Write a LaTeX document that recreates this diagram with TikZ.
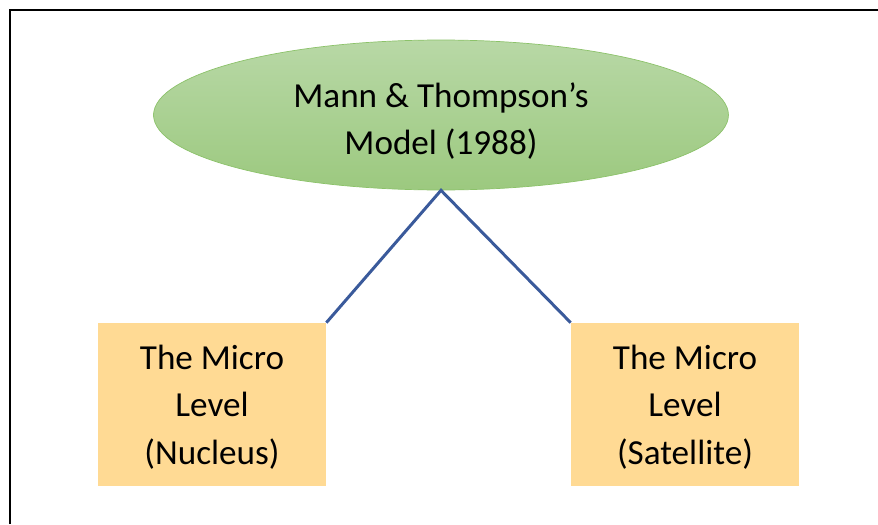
\documentclass[tikz,border=0pt]{standalone}
\usepackage{fontspec}
\setmainfont{Carlito}
\usetikzlibrary{shapes.geometric, positioning}
\definecolor{ovaltop}{HTML}{B8D8A6}
\definecolor{ovalbot}{HTML}{9CC97F}
\definecolor{ovalline}{HTML}{8CC26A}
\definecolor{levelfill}{HTML}{FFDA94}
\definecolor{linkblue}{HTML}{3A5A9B}

\begin{document}
\begin{tikzpicture}[x=0.02cm, y=-0.02cm,
  model/.style={ellipse, draw=ovalline, thin, top color=ovaltop, bottom color=ovalbot,
    minimum width=11.5cm, minimum height=3cm, inner sep=0pt, align=center,
    font=\fontsize{20}{25.5}\selectfont},
  level/.style={rectangle, fill=levelfill, minimum width=4.56cm, minimum height=3.26cm,
    inner sep=0pt, align=center, font=\fontsize{20}{27}\selectfont},
  link/.style={linkblue, line width=1.7pt}]
\useasboundingbox (0,0) rectangle (878,524);
\draw[line width=1.3pt] (10,524) -- (10,10) -- (878,10);

\node[model] (mt) at (441,115) {\raisebox{-4pt}[\height][\depth]{\begin{tabular}{c}Mann \& Thompson’s\\[0.8pt] Model (1988)\end{tabular}}};

\node[level] (nuc) at (212,404.5) {\raisebox{-1.5pt}[\height][\depth]{\begin{tabular}{c}The Micro\\Level\\(Nucleus)\end{tabular}}};
\node[level] (sat) at (685,404.5) {\raisebox{-1.5pt}[\height][\depth]{\begin{tabular}{c}The Micro\\Level\\(Satellite)\end{tabular}}};

\draw[link] (nuc.north east) -- (mt.south) -- (sat.north west);
\end{tikzpicture}
\end{document}
